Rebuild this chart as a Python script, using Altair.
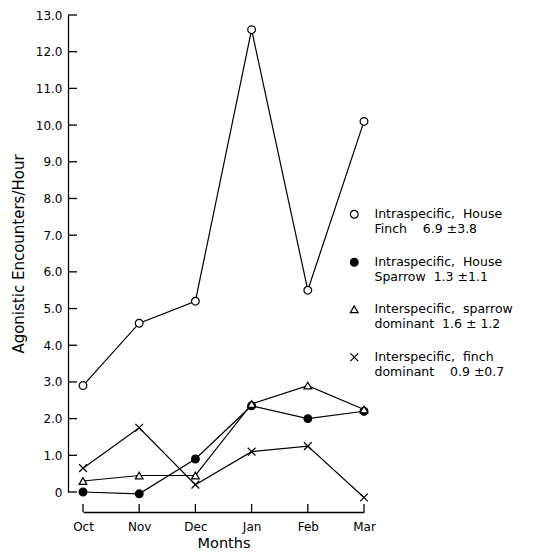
import altair as alt
import pandas as pd

months = ["Oct", "Nov", "Dec", "Jan", "Feb", "Mar"]
NB = "\u00a0"
series_names = [
    f"Intraspecific,{NB}{NB}House|Finch{NB}{NB}{NB}{NB}6.9{NB}±3.8",
    f"Intraspecific,{NB}{NB}House|Sparrow{NB}{NB}1.3{NB}±1.1",
    f"Interspecific,{NB}{NB}sparrow|dominant{NB}{NB}1.6{NB}±{NB}1.2",
    f"Interspecific,{NB}{NB}finch|dominant{NB}{NB}{NB}{NB}0.9{NB}±0.7",
]
finch_intra = [2.9, 4.6, 5.2, 12.6, 5.5, 10.1]
sparrow_intra = [0.0, -0.05, 0.9, 2.35, 2.0, 2.2]
sparrow_dom = [0.3, 0.45, 0.45, 2.4, 2.9, 2.25]
finch_dom = [0.65, 1.75, 0.2, 1.1, 1.25, -0.15]
y_tick_values = list(range(0, 14))
x_tick_values = list(range(len(months)))

rows = []
for name, vals in zip(series_names, [finch_intra, sparrow_intra, sparrow_dom, finch_dom]):
    for i, v in enumerate(vals):
        rows.append({"series": name, "m": i, "v": v})
df = pd.DataFrame(rows)
df_yt = pd.DataFrame({"v": y_tick_values})
df_xt = pd.DataFrame({"m": x_tick_values})

FONT = "DejaVu Sans"
W, H = 281, 477
YOFF, XOFF = 15, 20

xscale = alt.Scale(domain=[0, 5], nice=False)
yscale = alt.Scale(domain=[0, 13], nice=False)

x_axis = alt.Axis(values=x_tick_values, labelExpr=f"{months}[datum.value]", ticks=False,
                  labelFlush=False, offset=XOFF, grid=False, domainColor="black", domainWidth=1.3,
                  labelFont=FONT, labelFontSize=12, labelColor="black", labelPadding=9,
                  title="Months", titleFont=FONT, titleFontSize=14.5, titleFontWeight="normal",
                  titleColor="black", titlePadding=4)
y_axis = alt.Axis(values=y_tick_values,
                  labelExpr="datum.value == 0 ? '0' : format(datum.value, '.1f')",
                  ticks=False, labelFlush=False, offset=YOFF, grid=False, domainColor="black",
                  domainWidth=1.3, labelFont=FONT, labelFontSize=12, labelColor="black",
                  labelPadding=6,
                  title="Agonistic Encounters/Hour", titleFont=FONT, titleFontSize=15,
                  titleFontWeight="normal", titleColor="black", titlePadding=9)

legend = alt.Legend(title=None, orient="none", legendX=265, legendY=193, padding=0,
                    labelExpr="split(datum.label, '|')", labelFont=FONT, labelFontSize=12.5,
                    labelColor="black", labelLimit=300, labelOffset=14,
                    symbolStrokeColor="black", symbolStrokeWidth=1.2, symbolSize=60,
                    rowPadding=19)

shapes = ["circle", "circle", "triangle-up", "M-1,-1L1,1M-1,1L1,-1"]
fills = ["white", "black", "white", "transparent"]
strokes = ["black", "black", "black", "black"]

X = alt.X("m:Q", scale=xscale, axis=x_axis)
Y = alt.Y("v:Q", scale=yscale, axis=y_axis)

lines = alt.Chart(df).mark_line(color="black", strokeWidth=1.2).encode(
    x=X, y=Y, detail="series:N",
)
points = alt.Chart(df).mark_point(opacity=1, strokeWidth=1.2, size=60).encode(
    x=X, y=Y,
    shape=alt.Shape("series:N", scale=alt.Scale(domain=series_names, range=shapes), legend=legend),
    fill=alt.Fill("series:N", scale=alt.Scale(domain=series_names, range=fills), legend=legend),
    stroke=alt.Stroke("series:N", scale=alt.Scale(domain=series_names, range=strokes), legend=legend),
)
yticks = alt.Chart(df_yt).mark_rule(color="black", strokeWidth=1.3).encode(
    y=Y,
    x=alt.value(-YOFF),
    x2=alt.value(-YOFF + 9),
)
xticks = alt.Chart(df_xt).mark_rule(color="black", strokeWidth=1.3).encode(
    x=X,
    y=alt.value(H + XOFF),
    y2=alt.value(H + XOFF - 8),
)

chart = alt.layer(lines, points, yticks, xticks).properties(
    width=W, height=H,
    padding={"left": 75, "top": 7, "right": 175, "bottom": 59},
    autosize=alt.AutoSizeParams(type="none"),
).configure_view(strokeWidth=0)

chart.save("out.html", embed_options={"renderer": "svg", "actions": False})
